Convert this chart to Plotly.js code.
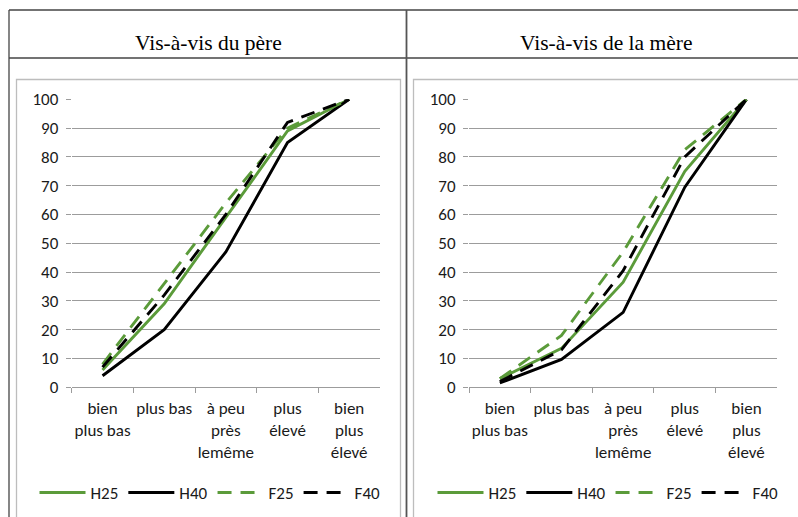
<!DOCTYPE html>
<html>
<head>
<meta charset="utf-8">
<script src="https://cdn.plot.ly/plotly-3.0.1.min.js"></script>
<style>
html,body{margin:0;padding:0;background:#fff;}
#chart{width:798px;height:517px;}
</style>
</head>
<body>
<div id="chart"></div>
<script>
// ---- Data ----
var categories = ["bien<br>plus bas", "plus bas", "à peu<br>près<br>lemême", "plus<br>élevé", "bien<br>plus<br>élevé"];
var seriesNames = ["H25", "H40", "F25", "F40"];
var pereH25 = [6, 29, 59, 89, 100];
var pereH40 = [4, 20, 47, 85, 100];
var pereF25 = [8, 36, 64, 90, 100];
var pereF40 = [7, 32, 60, 92, 100];
var mereH25 = [3, 13.5, 36.5, 75, 100];
var mereH40 = [1.5, 9.7, 26, 69.5, 100];
var mereF25 = [3, 18, 47, 82.5, 100];
var mereF40 = [2, 13, 40.5, 80, 100];
var panelTitles = ["Vis-à-vis du père", "Vis-à-vis de la mère"];

// ---- Geometry helpers (pixel -> paper) ----
var W = 798, H = 517;
function px(x){ return x / W; }
function py(y){ return 1 - y / H; }

var GREEN = "#5B9B3A", BLACK = "#000000";
var styles = [
  {color: GREEN, dash: "solid"},
  {color: BLACK, dash: "solid"},
  {color: GREEN, dash: "14px,9px"},
  {color: BLACK, dash: "14px,9px"}
];
var pereData = [pereH25, pereH40, pereF25, pereF40];
var mereData = [mereH25, mereH40, mereF25, mereF40];

var traces = [];
function addPanel(data, xa, ya, leg){
  for (var i = 0; i < data.length; i++){
    traces.push({
      type: "scatter", mode: "lines",
      x: categories, y: data[i],
      name: seriesNames[i],
      xaxis: xa, yaxis: ya, legend: leg,
      line: {color: styles[i].color, dash: styles[i].dash, width: 2.9},
      hoverinfo: "skip"
    });
  }
}
addPanel(pereData, "x", "y", "legend");
addPanel(mereData, "x2", "y2", "legend2");

var tickFont = {family: "Carlito, Lato, 'Open Sans', sans-serif", size: 17, color: "#1a1a1a"};
var GRID = "#9c9c9c";

function xAxis(x0, x1, anchor){
  return {
    domain: [px(x0), px(x1)], anchor: anchor,
    type: "category", range: [-0.5, 4.5],
    tickson: "boundaries", ticks: "outside", ticklen: 5, tickcolor: GRID, tickwidth: 1,
    showline: true, linecolor: GRID, linewidth: 1,
    showgrid: false, zeroline: false,
    tickfont: tickFont, tickangle: 0, ticklabelstandoff: 5, fixedrange: true
  };
}
function yAxis(y0, y1, anchor){
  return {
    domain: [py(y1), py(y0)], anchor: anchor,
    range: [0, 100], dtick: 10, tick0: 0,
    ticks: "outside", ticklen: 5, tickcolor: GRID, tickwidth: 1,
    showgrid: true, gridcolor: GRID, gridwidth: 1,
    showline: false, zeroline: false,
    tickfont: tickFont, ticklabelstandoff: 4, fixedrange: true
  };
}

var lineC = "#444";
var shapes = [
  // table lines
  {type: "line", xref: "paper", yref: "paper", x0: px(9), x1: px(805), y0: py(10), y1: py(10), line: {color: lineC, width: 1.3}},
  {type: "line", xref: "paper", yref: "paper", x0: px(9), x1: px(805), y0: py(58), y1: py(58), line: {color: lineC, width: 1.3}},
  {type: "line", xref: "paper", yref: "paper", x0: px(9), x1: px(9), y0: py(10), y1: py(530), line: {color: lineC, width: 1.3}},
  {type: "line", xref: "paper", yref: "paper", x0: px(406.5), x1: px(406.5), y0: py(10), y1: py(530), line: {color: "#555", width: 1.8}},
  // chart boxes
  {type: "rect", xref: "paper", yref: "paper", x0: px(16.5), x1: px(400.5), y0: py(540), y1: py(79.5), line: {color: "#bdbdbd", width: 1.3}},
  {type: "rect", xref: "paper", yref: "paper", x0: px(413.5), x1: px(820), y0: py(540), y1: py(79.5), line: {color: "#bdbdbd", width: 1.3}}
];

var titleFont = {family: "'Liberation Serif', 'Times New Roman', serif", size: 21.5, color: "#000"};
var annotations = [
  {xref: "paper", yref: "paper", x: px(208.5), y: py(42.5), text: panelTitles[0], showarrow: false, xanchor: "center", yanchor: "middle", font: titleFont},
  {xref: "paper", yref: "paper", x: px(606), y: py(42.5), text: panelTitles[1], showarrow: false, xanchor: "center", yanchor: "middle", font: titleFont}
];

var legFont = {family: "Carlito, Lato, 'Open Sans', sans-serif", size: 17, color: "#1a1a1a"};
var layout = {
  width: W, height: H,
  margin: {l: 0, r: 0, t: 0, b: 0, pad: 0},
  paper_bgcolor: "#fff", plot_bgcolor: "rgba(0,0,0,0)",
  showlegend: true,
  xaxis: xAxis(71.7, 380, "y"),
  yaxis: yAxis(99.3, 387.3, "x"),
  xaxis2: xAxis(469, 777.3, "y2"),
  yaxis2: yAxis(99.3, 387.3, "x2"),
  legend: {orientation: "h", x: px(210), y: py(493), xanchor: "center", yanchor: "middle", font: legFont, itemwidth: 46, bgcolor: "rgba(0,0,0,0)", tracegroupgap: 0},
  legend2: {orientation: "h", x: px(608), y: py(493), xanchor: "center", yanchor: "middle", font: legFont, itemwidth: 46, bgcolor: "rgba(0,0,0,0)", tracegroupgap: 0},
  shapes: shapes,
  annotations: annotations
};

Plotly.newPlot("chart", traces, layout, {displayModeBar: false, staticPlot: true});
</script>
</body>
</html>
